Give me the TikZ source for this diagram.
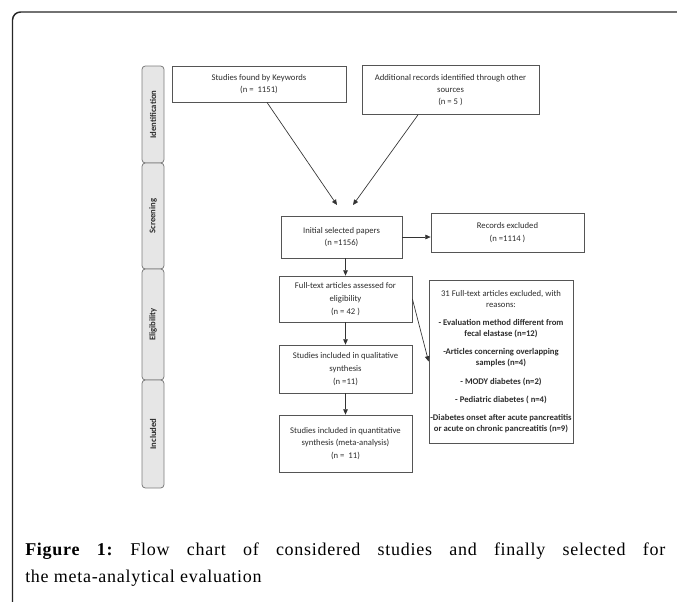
\documentclass[tikz,border=0pt]{standalone}
\usepackage{fontspec}
\setmainfont{Liberation Serif}
\newfontfamily\boxfont{Carlito}
\newfontfamily\capfont[LetterSpace=4]{Liberation Serif}
\usetikzlibrary{arrows.meta}

\definecolor{boxline}{RGB}{85,85,85}
\definecolor{boxtext}{RGB}{45,45,45}
\definecolor{barfill}{RGB}{230,230,230}
\definecolor{barline}{RGB}{125,125,125}

\tikzset{
  flowbox/.style={draw=boxline, line width=0.6pt, fill=white, text=boxtext, align=center, inner sep=1pt,
    font=\boxfont\fontsize{6.5}{9.5}\selectfont},
  phasebar/.style={draw=barline, fill=barfill, line width=0.6pt, rounded corners=2.5pt, rotate=90,
    minimum height=16.5pt, inner sep=0pt, text=boxtext, font=\boxfont\bfseries\fontsize{6.5}{8}\selectfont},
  flowarrow/.style={draw=black!80, line width=0.5pt, -{Triangle[length=4pt,width=3.5pt]}}
}

\begin{document}
\begin{tikzpicture}[x=0.75pt,y=0.75pt,yscale=-1]
\useasboundingbox (0,0) rectangle (677,601);

%Frame
\draw[line width=1.1pt, black!85, rounded corners=6pt] (12.5,605) -- (12.5,12) -- (680,12);

%Phase bars
\node[phasebar, minimum width=72.75pt] (ident) at (153,114.5) {Identification};
\node[phasebar, minimum width=79.5pt] (screen) at (153,216) {Screening};
\node[phasebar, minimum width=83.25pt] (elig) at (153,324.5) {Eligibility};
\node[phasebar, minimum width=81pt] (incl) at (153,434) {Included};

%Boxes
\node[flowbox, minimum width=130.5pt, minimum height=27pt] (keywords) at (259,84) {Studies found by Keywords\\(n = \ 1151)};
\node[flowbox, minimum width=132.75pt, minimum height=36.75pt,
  font=\boxfont\fontsize{6.5}{9}\selectfont] (other) at (450.5,90) {Additional records identified through other\\sources\\(n = 5 )};
\node[flowbox, minimum width=90.75pt, minimum height=31.5pt] (init) at (341.5,237) {Initial selected papers\\(n =1156)};
\node[flowbox, minimum width=114.75pt, minimum height=29.25pt] (records) at (507.5,232.5) {Records excluded\\(n =1114 )};
\node[flowbox, minimum width=99.75pt, minimum height=34.5pt] (fulltext) at (345.5,299) {Full-text articles assessed for\\eligibility\\(n = 42 )};
\node[flowbox, minimum width=106.5pt, minimum height=122.25pt,
  font=\boxfont\fontsize{6.5}{8.25}\selectfont] (excluded) at (501,361.5)
  {31 Full-text articles excluded, with\\reasons:\\[5.5pt]
   \textbf{- Evaluation method different from}\\\textbf{fecal elastase (n=12)}\\[5.5pt]
   \textbf{-Articles concerning overlapping}\\\textbf{samples (n=4)}\\[5.5pt]
   \textbf{- MODY diabetes (n=2)}\\[5.5pt]
   \textbf{- Pediatric diabetes ( n=4)}\\[5.5pt]
   \textbf{-Diabetes onset after acute pancreatitis}\\\textbf{or acute on chronic pancreatitis (n=9)}};
\node[flowbox, minimum width=99.75pt, minimum height=36pt] (qual) at (345.5,369) {Studies included in qualitative\\synthesis\\(n =11)};
\node[flowbox, minimum width=99.75pt, minimum height=42.75pt] (quant) at (345.5,443.5) {Studies included in quantitative\\synthesis (meta-analysis)\\(n = \ 11)};

%Arrows
\coordinate (kwend) at (337,205);
\coordinate (otherend) at (353,205);
\draw[flowarrow] ([xshift=6pt]keywords.south) -- (kwend);
\draw[flowarrow] ([xshift=-24.4pt]other.south) -- (otherend);
\draw[flowarrow] (init.east) -- (init.east -| records.west);
\draw[flowarrow] (init.south -| fulltext.north) -- (fulltext.north);
\draw[flowarrow] (fulltext.east) -- (excluded.west);
\draw[flowarrow] (fulltext.south) -- (qual.north);
\draw[flowarrow] (qual.south) -- (quant.north);

%Caption
\node[anchor=north west, inner sep=0pt, text width=480pt, align=justify, font=\capfont\fontsize{13.5}{20}\selectfont] (caption) at (25,543)
  {\frenchspacing\textbf{Figure 1:} Flow chart of considered studies and finally selected for\linebreak the meta-analytical evaluation};

\end{tikzpicture}
\end{document}
